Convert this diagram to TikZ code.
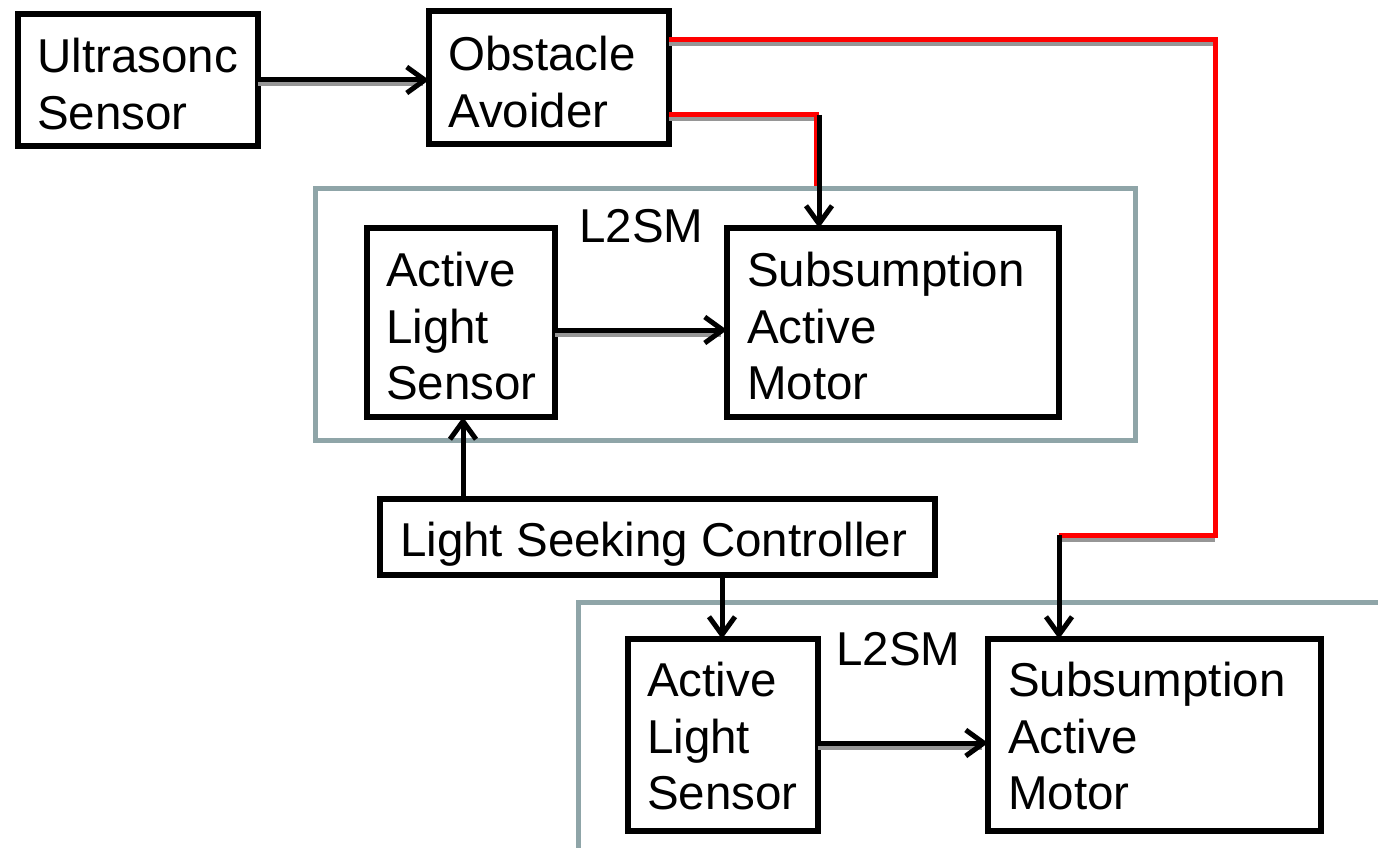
\documentclass[tikz,border=0pt]{standalone}
\usepackage{fontspec}
\setmainfont{Liberation Sans}
\usetikzlibrary{arrows.meta}
\definecolor{framegray}{RGB}{143,165,168}
\definecolor{wirered}{RGB}{255,0,0}
\definecolor{shadowgray}{RGB}{150,150,150}

\begin{document}
\begin{tikzpicture}[x=1pt,y=-1pt,
  box/.style={draw=black,line width=5.5pt,inner sep=0pt,outer sep=0pt,anchor=north west},
  frame/.style={draw=framegray,line width=5pt},
  lbl/.style={anchor=north west,inner sep=0pt,align=left,font=\fontsize{47.5}{56.5}\selectfont},
  link/.style={draw=black,line width=5pt,-{Straight Barb[length=18pt,width=26pt]}},
  wire/.style={draw=wirered,line width=5pt},
  drop/.style={draw=shadowgray,line width=4pt,transform canvas={yshift=-4.5pt}}]

\useasboundingbox (0,0) rectangle (1378,848);

% module frames
\node[frame,inner sep=0pt,outer sep=0pt,anchor=north west,minimum width=820pt,minimum height=252pt] (frameA) at (315,188) {};
\draw[frame] (1378,602) coordinate (fB1) -- (578,602) coordinate (fB2) -- (578,848) coordinate (fB3);

% blocks
\node[box,minimum width=240pt,minimum height=132pt] (ultra) at (18,14) {};
\node[box,minimum width=240pt,minimum height=133pt] (obst) at (429,11) {};
\node[box,minimum width=188pt,minimum height=189pt] (alsA) at (367,228) {};
\node[box,minimum width=332pt,minimum height=189pt] (samA) at (727,228) {};
\node[box,minimum width=555pt,minimum height=76pt] (lsc) at (380,499) {};
\node[box,minimum width=190pt,minimum height=192pt] (alsB) at (628,639) {};
\node[box,minimum width=333pt,minimum height=192pt] (samB) at (988,639) {};

% labels
\node[lbl] (tUltra) at (37,38) {Ultrasonc\\Sensor};
\node[lbl] (tObst) at (448,36) {Obstacle\\Avoider};
\node[lbl] (tAlsA) at (386,252) {Active\\Light\\Sensor};
\node[lbl] (tSamA) at (747,252) {Subsumption\\Active\\Motor};
\node[lbl] (tModA) at (579,209) {L2SM};
\node[lbl] (tLsc) at (400,522) {Light Seeking Controller};
\node[lbl] (tAlsB) at (647,662) {Active\\Light\\Sensor};
\node[lbl] (tSamB) at (1008,662) {Subsumption\\Active\\Motor};
\node[lbl] (tModB) at (836,632) {L2SM};

% routing points
\coordinate (k1) at (816,115);
\coordinate (k1e) at (816,186);
\coordinate (k2) at (1215,40);
\coordinate (k3) at (1215,535);
\coordinate (k4) at (1059,535);
\coordinate (u1) at (463,499);
\coordinate (u2) at (722,575);
\coordinate (h1) at (555,330);
\coordinate (h2) at (818,743);

% drop shadows under horizontal runs
\draw[drop] (ultra.east) -- ([xshift=-6pt]ultra.east -| obst.west);
\draw[drop] (h1) -- ([xshift=-6pt]h1 -| samA.west);
\draw[drop] (h2) -- ([xshift=-6pt]h2 -| samB.west);
\draw[drop] (obst.east |- k1) -- (k1);
\draw[drop] (obst.east |- k2) -- (k2);
\draw[drop] (k4) -- (k3);

% obstacle avoider outputs
\draw[wire] (obst.east |- k1) -- (k1) -- (k1e);
\draw[wire] (obst.east |- k2) -- (k2) -- (k3) -- (k4);
\draw[link] ([xshift=3pt]k1) -- ([xshift=3pt]k1 |- samA.north);
\draw[link] (k4) -- (k4 |- samB.north);

% signal flow
\draw[link] (ultra.east) -- (ultra.east -| obst.west);
\draw[link] (h1) -- (h1 -| samA.west);
\draw[link] (h2) -- (h2 -| samB.west);
\draw[link] (u1) -- (u1 |- alsA.south);
\draw[link] (u2) -- (u2 |- alsB.north);
\end{tikzpicture}
\end{document}
